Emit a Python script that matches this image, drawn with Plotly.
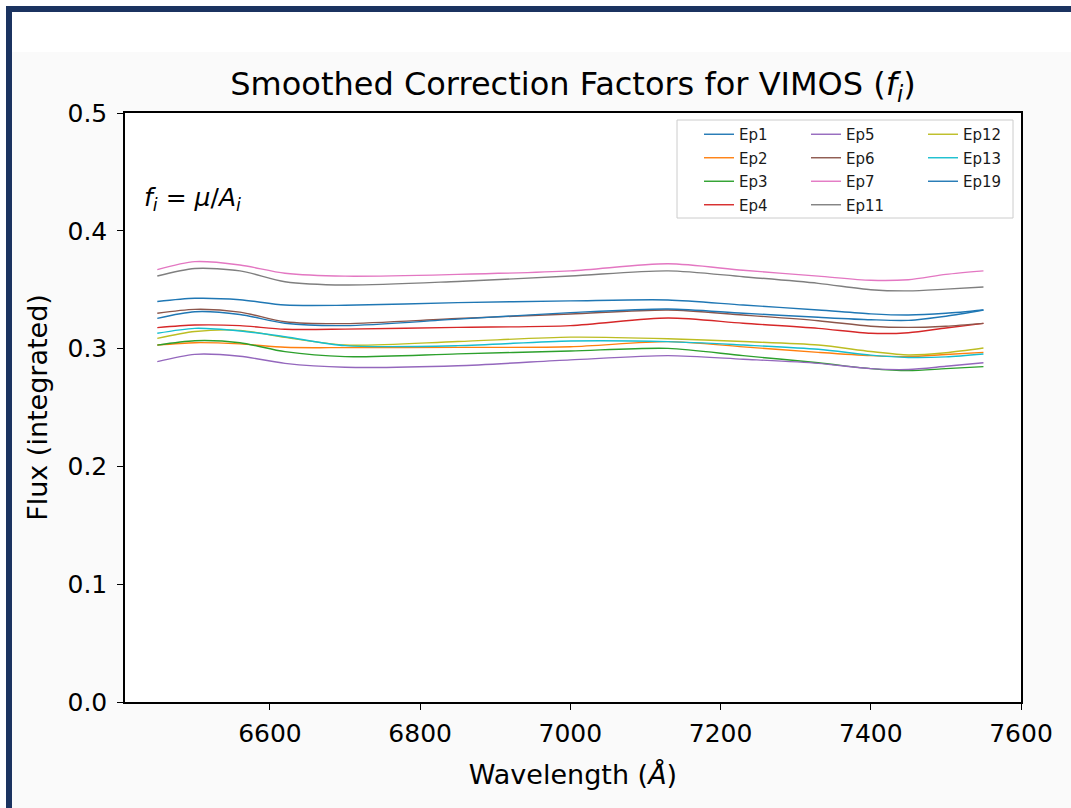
import plotly.graph_objects as go

# Wavelength grid (Angstrom) shared by all smoothed correction curves
wavelength = [6450, 6500, 6560, 6620, 6700, 6850, 7000, 7130, 7230, 7330, 7400, 7450, 7500, 7550]

ep1 = [0.3400, 0.3427, 0.3415, 0.3370, 0.3368, 0.3390, 0.3405, 0.3413, 0.3370, 0.3328, 0.3295, 0.3285, 0.3300, 0.3328]
ep2 = [0.3030, 0.3050, 0.3040, 0.3011, 0.3008, 0.3010, 0.3016, 0.3059, 0.3015, 0.2968, 0.2940, 0.2931, 0.2950, 0.2968]
ep3 = [0.3030, 0.3067, 0.3050, 0.2974, 0.2932, 0.2955, 0.2980, 0.3002, 0.2940, 0.2880, 0.2830, 0.2813, 0.2830, 0.2847]
ep4 = [0.3178, 0.3200, 0.3195, 0.3164, 0.3165, 0.3180, 0.3195, 0.3260, 0.3215, 0.3172, 0.3130, 0.3135, 0.3175, 0.3214]
ep5 = [0.2889, 0.2951, 0.2935, 0.2875, 0.2842, 0.2855, 0.2904, 0.2940, 0.2910, 0.2875, 0.2830, 0.2823, 0.2850, 0.2880]
ep6 = [0.3300, 0.3333, 0.3310, 0.3228, 0.3212, 0.3255, 0.3294, 0.3328, 0.3285, 0.3237, 0.3190, 0.3180, 0.3190, 0.3214]
ep7 = [0.3670, 0.3738, 0.3710, 0.3640, 0.3615, 0.3630, 0.3660, 0.3720, 0.3665, 0.3615, 0.3580, 0.3585, 0.3630, 0.3660]
ep11 = [0.3616, 0.3680, 0.3660, 0.3568, 0.3540, 0.3570, 0.3616, 0.3660, 0.3610, 0.3554, 0.3500, 0.3490, 0.3505, 0.3523]
ep12 = [0.3087, 0.3145, 0.3155, 0.3095, 0.3030, 0.3060, 0.3097, 0.3084, 0.3060, 0.3030, 0.2975, 0.2946, 0.2965, 0.3005]
ep13 = [0.3130, 0.3172, 0.3150, 0.3101, 0.3025, 0.3025, 0.3065, 0.3059, 0.3030, 0.2994, 0.2945, 0.2925, 0.2930, 0.2954]
ep19 = [0.3257, 0.3313, 0.3290, 0.3215, 0.3195, 0.3250, 0.3305, 0.3336, 0.3300, 0.3266, 0.3245, 0.3240, 0.3275, 0.3328]

series_names = ["Ep1", "Ep2", "Ep3", "Ep4", "Ep5", "Ep6", "Ep7", "Ep11", "Ep12", "Ep13", "Ep19"]
series_values = [ep1, ep2, ep3, ep4, ep5, ep6, ep7, ep11, ep12, ep13, ep19]
series_colors = ["#1f77b4", "#ff7f0e", "#2ca02c", "#d62728", "#9467bd", "#8c564b",
                 "#e377c2", "#7f7f7f", "#bcbd22", "#17becf", "#1f77b4"]
legend_columns = ["legend", "legend", "legend", "legend",
                  "legend2", "legend2", "legend2", "legend2",
                  "legend3", "legend3", "legend3"]

x_ticks = [6600, 6800, 7000, 7200, 7400, 7600]
y_ticks = [0.0, 0.1, 0.2, 0.3, 0.4, 0.5]

W, H = 1071, 808
L, R, T, B = 125, 1021, 113, 702  # plot-area edges in pixels


def px(xp):
    return (xp - L) / (R - L)


def py(yp):
    return (B - yp) / (B - T)


fig = go.Figure()
for name, vals, col, leg in zip(series_names, series_values, series_colors, legend_columns):
    fig.add_trace(go.Scatter(
        x=wavelength, y=vals, mode="lines", name=name,
        line=dict(color=col, width=1.4, shape="spline", smoothing=0.8),
        legend=leg, legendgroup=name,
    ))

font_family = "DejaVu Sans"
navy = "#1b3360"

shapes = [
    # white header strip and left margin outside the frame
    dict(type="rect", xref="paper", yref="paper", x0=px(0), x1=px(W), y0=py(0), y1=py(52),
         fillcolor="white", line_width=0, layer="below"),
    dict(type="rect", xref="paper", yref="paper", x0=px(0), x1=px(6), y0=py(0), y1=py(H),
         fillcolor="white", line_width=0, layer="below"),
    # navy frame along top and left edges
    dict(type="rect", xref="paper", yref="paper", x0=px(6), x1=px(W), y0=py(6), y1=py(12),
         fillcolor=navy, line_width=0),
    dict(type="rect", xref="paper", yref="paper", x0=px(6), x1=px(12), y0=py(6), y1=py(H),
         fillcolor=navy, line_width=0),
    # legend frame
    dict(type="rect", xref="paper", yref="paper", x0=px(677), x1=px(1013), y0=py(120), y1=py(218),
         fillcolor="rgba(255,255,255,0.8)", line=dict(color="#cccccc", width=1)),
]

legend_common = dict(
    orientation="v", xanchor="left", yanchor="top",
    bgcolor="rgba(0,0,0,0)", borderwidth=0,
    font=dict(family=font_family, size=15, color="#1a1a1a"),
    tracegroupgap=1, itemclick=False, itemdoubleclick=False,
)

fig.update_layout(
    width=W, height=H,
    margin=dict(l=L, r=W - R, t=T, b=H - B),
    paper_bgcolor="#fafafa",
    plot_bgcolor="white",
    font=dict(family=font_family, color="#000000"),
    title=dict(
        text="Smoothed Correction Factors for VIMOS (<i>f</i><sub><i>i</i></sub>)",
        x=px((L + R) / 2), xanchor="center", xref="paper",
        y=1 - 84 / H, yanchor="middle", yref="container",
        font=dict(family=font_family, size=32, color="#000000"),
    ),
    xaxis=dict(
        range=[6407, 7600], tickvals=x_ticks, ticktext=[str(v) for v in x_ticks],
        ticks="outside", ticklen=6, tickwidth=1.2, tickcolor="#000",
        ticklabelstandoff=2,
        showline=True, linecolor="#000", linewidth=1.5, mirror=True,
        showgrid=False, zeroline=False,
        tickfont=dict(family=font_family, size=25, color="#000"),
        title=dict(text="Wavelength (<i>Å</i>)", standoff=18,
                   font=dict(family=font_family, size=27, color="#000")),
    ),
    yaxis=dict(
        range=[0, 0.5], tickvals=y_ticks, ticktext=[f"{v:.1f}" for v in y_ticks],
        ticks="outside", ticklen=6, tickwidth=1.2, tickcolor="#000",
        ticklabelstandoff=5,
        showline=True, linecolor="#000", linewidth=1.5, mirror=True,
        showgrid=False, zeroline=False,
        tickfont=dict(family=font_family, size=25, color="#000"),
        title=dict(text="Flux (integrated)", standoff=12,
                   font=dict(family=font_family, size=27, color="#000")),
    ),
    shapes=shapes,
    legend=dict(x=px(699), y=py(118), **legend_common),
    legend2=dict(x=px(806), y=py(118), **legend_common),
    legend3=dict(x=px(923), y=py(118), **legend_common),
    annotations=[
        dict(text="<i>f</i><sub><i>i</i></sub> = <i>μ</i>/<i>A</i><sub><i>i</i></sub>",
             xref="paper", yref="paper", x=px(142), y=py(199),
             xanchor="left", yanchor="middle", showarrow=False,
             font=dict(family=font_family, size=25, color="#000")),
    ],
)

fig.write_html("out.html")
